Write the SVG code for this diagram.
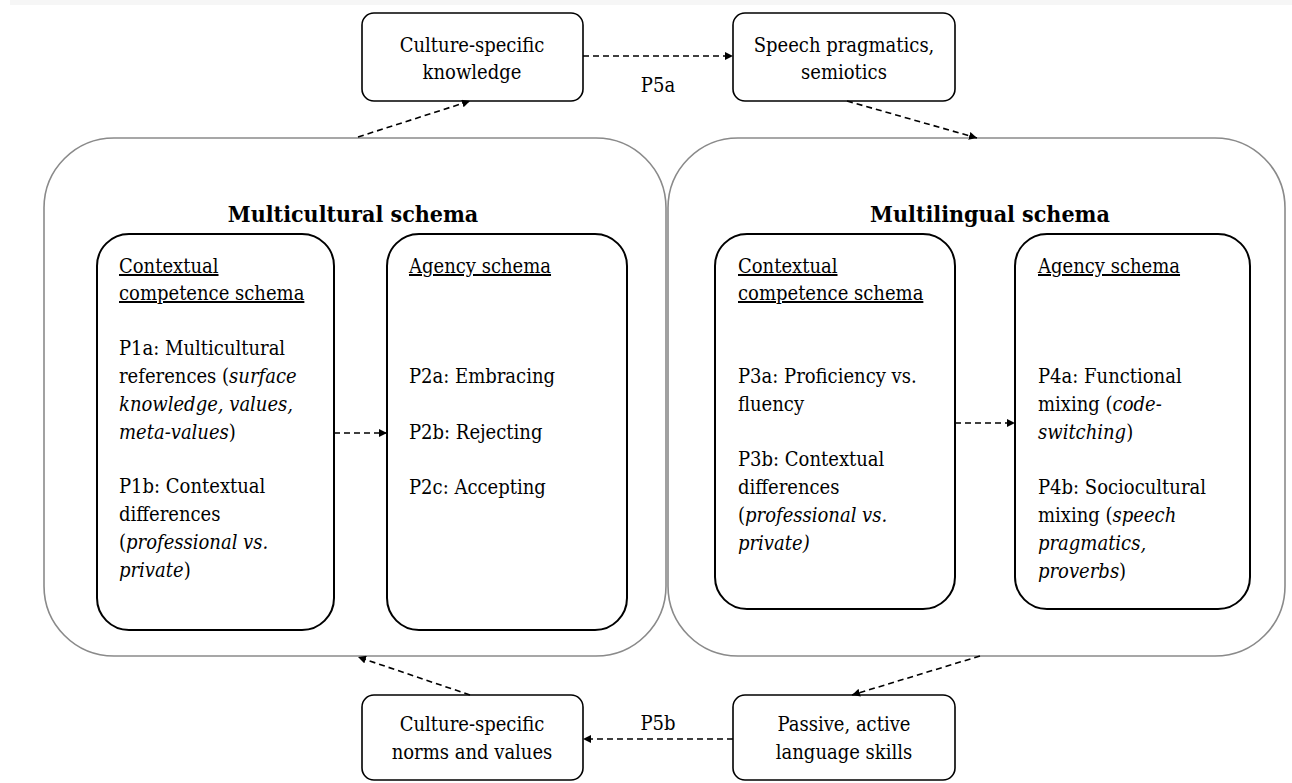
<svg xmlns="http://www.w3.org/2000/svg" width="1292" height="783" viewBox="0 0 1292 783">
<style>
text{font-family:'DejaVu Serif Condensed','DejaVu Serif',serif;font-stretch:condensed;font-size:20px;fill:#000}
.c{text-anchor:middle}
.h{font-size:23px;font-weight:bold;text-anchor:middle}
.u{text-decoration:underline}
.i{font-style:italic}
.box{fill:#fff;stroke:#000;stroke-width:1.6}
.inner{fill:#fff;stroke:#000;stroke-width:2}
.big{fill:#fff;stroke:#8a8a8a;stroke-width:1.6}
.con{fill:none;stroke:#000;stroke-width:1.6;stroke-dasharray:6 4;marker-end:url(#ah)}
</style>
<defs>
<marker id="ah" viewBox="0 0 10 10" refX="10" refY="5" markerWidth="8" markerHeight="8" markerUnits="userSpaceOnUse" orient="auto"><path d="M0,0L10,5L0,10z" fill="#000"/></marker>
</defs>
<rect x="10" y="0" width="1282" height="5" fill="#f6f6f6"/>
<g id="multicultural">
<rect class="big" x="44" y="138" width="622" height="518" rx="70"/>
<text class="h" x="353" y="222">Multicultural schema</text>
</g>
<g id="multilingual">
<rect class="big" x="668" y="138" width="617" height="518" rx="70"/>
<text class="h" x="990" y="222">Multilingual schema</text>
</g>
<g id="mc-context">
<rect class="inner" x="97" y="234" width="237" height="396" rx="32"/>
<text x="119" y="273" class="u">Contextual</text>
<text x="119" y="300" class="u">competence schema</text>
<text x="119" y="355">P1a: Multicultural</text>
<text x="119" y="383">references (<tspan class="i">surface</tspan></text>
<text x="119" y="411"><tspan class="i">knowledge, values,</tspan></text>
<text x="119" y="439"><tspan class="i">meta-values</tspan>)</text>
<text x="119" y="493">P1b: Contextual</text>
<text x="119" y="521">differences</text>
<text x="119" y="549">(<tspan class="i">professional vs.</tspan></text>
<text x="119" y="577"><tspan class="i">private</tspan>)</text>
</g>
<g id="mc-agency">
<rect class="inner" x="387" y="234" width="240" height="396" rx="32"/>
<text x="409" y="273" class="u">Agency schema</text>
<text x="409" y="383">P2a: Embracing</text>
<text x="409" y="439">P2b: Rejecting</text>
<text x="409" y="494">P2c: Accepting</text>
</g>
<g id="ml-context">
<rect class="inner" x="715" y="234" width="240" height="375" rx="32"/>
<text x="738" y="273" class="u">Contextual</text>
<text x="738" y="300" class="u">competence schema</text>
<text x="738" y="383">P3a: Proficiency vs.</text>
<text x="738" y="411">fluency</text>
<text x="738" y="466">P3b: Contextual</text>
<text x="738" y="494">differences</text>
<text x="738" y="522">(<tspan class="i">professional vs.</tspan></text>
<text x="738" y="550"><tspan class="i">private)</tspan></text>
</g>
<g id="ml-agency">
<rect class="inner" x="1015" y="234" width="235" height="375" rx="32"/>
<text x="1038" y="273" class="u">Agency schema</text>
<text x="1038" y="383">P4a: Functional</text>
<text x="1038" y="411">mixing (<tspan class="i">code-</tspan></text>
<text x="1038" y="439"><tspan class="i">switching</tspan>)</text>
<text x="1038" y="494">P4b: Sociocultural</text>
<text x="1038" y="522">mixing (<tspan class="i">speech</tspan></text>
<text x="1038" y="550"><tspan class="i">pragmatics,</tspan></text>
<text x="1038" y="578"><tspan class="i">proverbs</tspan>)</text>
</g>
<g id="knowledge">
<rect class="box" x="362" y="13" width="221" height="88" rx="12"/>
<text class="c" x="472" y="52">Culture-specific</text>
<text class="c" x="472" y="79">knowledge</text>
</g>
<g id="pragmatics">
<rect class="box" x="733" y="13" width="222" height="88" rx="12"/>
<text class="c" x="844" y="52">Speech pragmatics,</text>
<text class="c" x="844" y="79">semiotics</text>
</g>
<g id="norms">
<rect class="box" x="362" y="695" width="221" height="85" rx="12"/>
<text class="c" x="472" y="731">Culture-specific</text>
<text class="c" x="472" y="759">norms and values</text>
</g>
<g id="skills">
<rect class="box" x="733" y="695" width="222" height="85" rx="12"/>
<text class="c" x="844" y="731">Passive, active</text>
<text class="c" x="844" y="759">language skills</text>
</g>
<g id="connectors">
<path class="con" d="M583,56L733,56"/>
<path class="con" d="M358,137L470,101"/>
<path class="con" d="M847,101L977,138"/>
<path class="con" d="M334,433L387,433"/>
<path class="con" d="M955,423L1015,423"/>
<path class="con" d="M980,656L852,695"/>
<path class="con" d="M470,695L358,657"/>
<path class="con" d="M733,739L583,739"/>
<text class="c" x="658" y="92">P5a</text>
<text class="c" x="658" y="730">P5b</text>
</g>
</svg>
